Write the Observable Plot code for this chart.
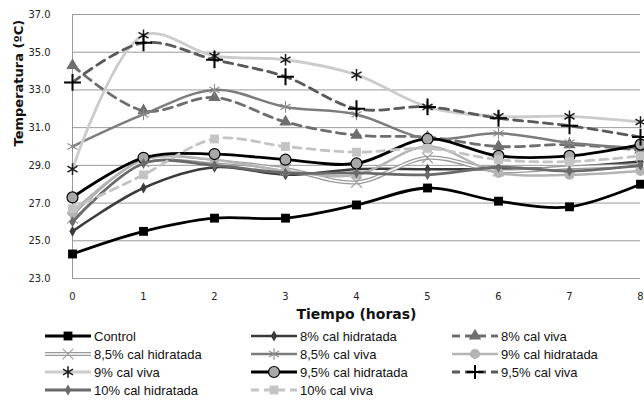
<!DOCTYPE html>
<html><head><meta charset="utf-8">
<script src="https://cdn.jsdelivr.net/npm/d3@7"></script>
<script src="https://cdn.jsdelivr.net/npm/@observablehq/plot@0.6"></script>
<style>
body{margin:0;background:#fff;}
#chart{position:relative;width:644px;height:403px;overflow:hidden;background:#fff;}
#legend{position:absolute;left:0;top:322px;width:644px;height:81px;font-family:"Liberation Sans",Arial,sans-serif;font-size:13px;color:#111;}
.item{position:absolute;display:flex;align-items:center;height:16px;white-space:nowrap;}
.item svg{margin-right:3px;display:block}
</style></head><body><div id="chart"><div id="legend"></div></div>
<script>
// ---- data ----
const hours = [0, 1, 2, 3, 4, 5, 6, 7, 8];
const yTicks = [23, 25, 27, 29, 31, 33, 35, 37];
const seriesNames = ["Control", "8% cal hidratada", "8% cal viva", "8,5% cal hidratada", "8,5% cal viva",
  "9% cal hidratada", "9% cal viva", "9,5% cal hidratada", "9,5% cal viva", "10% cal hidratada", "10% cal viva"];
const control      = [24.3, 25.5, 26.2, 26.2, 26.9, 27.8, 27.1, 26.8, 28.0];
const hid8         = [25.5, 27.8, 28.9, 28.5, 28.8, 28.8, 28.8, 28.9, 29.2];
const viva8        = [34.3, 31.9, 32.6, 31.3, 30.6, 30.5, 30.0, 30.1, 29.8];
const hid85        = [26.2, 29.2, 29.2, 28.8, 28.1, 29.4, 28.7, 28.9, 29.0];
const viva85       = [30.0, 31.7, 33.0, 32.1, 31.7, 30.4, 30.7, 30.2, 29.9];
const hid9         = [26.5, 29.3, 29.3, 28.7, 28.5, 30.0, 28.6, 28.5, 28.7];
const viva9        = [28.8, 35.9, 34.8, 34.6, 33.8, 32.1, 31.6, 31.6, 31.3];
const hid95        = [27.3, 29.4, 29.6, 29.3, 29.1, 30.4, 29.5, 29.5, 30.1];
const viva95       = [33.4, 35.5, 34.6, 33.7, 32.0, 32.1, 31.5, 31.1, 30.5];
const hid10        = [26.0, 29.1, 29.0, 28.6, 28.6, 28.5, 28.9, 28.7, 29.0];
const viva10       = [26.7, 28.5, 30.4, 30.0, 29.7, 29.9, 29.3, 29.2, 29.5];
const seriesValues = [control, hid8, viva8, hid85, viva85, hid9, viva9, hid95, viva95, hid10, viva10];

// ---- styles (not data) ----
const styles = [
  {color:"#000000", w:2.8, dash:null, sym:"square",  fill:"#000000", r:5},
  {color:"#3a3a3a", w:2.5, dash:null, sym:"diamond", fill:"#3a3a3a", r:3.3},
  {color:"#6e6e6e", w:2.8, dash:"9,6", sym:"triangle", fill:"#6e6e6e", r:4.6},
  {color:"#9a9a9a", w:4.2, dash:null, double:true, sym:"times", fill:"none", mstroke:"#a0a0a0", msw:1.1, r:5},
  {color:"#7c7c7c", w:2.5, dash:null, sym:"asterisk", fill:"none", mstroke:"#8a8a8a", msw:1.1, r:5.5},
  {color:"#b4b4b4", w:2.5, dash:null, sym:"circle", fill:"#b4b4b4", r:5},
  {color:"#cccccc", w:2.8, dash:null, sym:"asterisk", fill:"none", mstroke:"#1a1a1a", msw:1.5, r:5.5},
  {color:"#000000", w:2.8, dash:null, sym:"circle", fill:"#a8a8a8", mstroke:"#000", msw:1.2, r:5.5},
  {color:"#5a5a5a", w:2.8, dash:"9,6", sym:"plus", fill:"none", mstroke:"#000", msw:2, r:5.5},
  {color:"#6a6a6a", w:2.8, dash:null, sym:"diamond", fill:"#6a6a6a", r:3.3},
  {color:"#c4c4c4", w:2.8, dash:"8,6", sym:"square", fill:"#c4c4c4", r:5}
];

const marks = [
  Plot.gridY(yTicks, {stroke:"#9a9a9a", strokeOpacity:1, strokeWidth:1}),
  Plot.ruleX([0], {stroke:"#9a9a9a", strokeWidth:1}),
  Plot.axisY(yTicks, {tickSize:0, tickPadding:22, tickFormat:d => d.toFixed(1), fontSize:11, fill:"#222", label:null}),
  Plot.axisX(hours, {tickSize:0, tickPadding:14, tickFormat:d => String(d), fontSize:11, fill:"#222", label:null}),
  Plot.text(["Tiempo (horas)"], {frameAnchor:"bottom", lineAnchor:"middle", dy:36, fontWeight:"bold", fontSize:14, fill:"#111", fontFamily:"DejaVu Sans"}),
  Plot.text(["Temperatura (ºC)"], {frameAnchor:"left", dx:-54, rotate:-90, fontWeight:"bold", fontSize:13, fill:"#111", fontFamily:"DejaVu Sans"})
];

seriesNames.forEach((name, k) => {
  const s = styles[k];
  const pts = hours.map((h, i) => ({x:h, y:seriesValues[k][i]}));
  marks.push(Plot.line(pts, {x:"x", y:"y", stroke:s.color, strokeWidth:s.w, strokeDasharray:s.dash || undefined, curve:"catmull-rom"}));
  if (s.double) marks.push(Plot.line(pts, {x:"x", y:"y", stroke:"#ffffff", strokeWidth:1.6, curve:"catmull-rom"}));
  marks.push(Plot.dot(pts, {x:"x", y:"y", symbol:s.sym, r:s.r, fill:s.fill, stroke:s.mstroke || "none", strokeWidth:s.msw || 1}));
});

const chart = Plot.plot({
  width:644, height:322,
  marginLeft:72, marginRight:4, marginTop:14, marginBottom:44,
  style:{fontFamily:"DejaVu Sans Condensed, DejaVu Sans, sans-serif", fontSize:"11px", background:"#fff"},
  x:{domain:[0, 8], axis:null},
  y:{domain:[23, 37], axis:null},
  marks
});
document.getElementById("chart").prepend(chart);

// ---- legend ----
const symTypes = {square:d3.symbolSquare, diamond:d3.symbolDiamond, triangle:d3.symbolTriangle, times:d3.symbolTimes,
  asterisk:d3.symbolAsterisk, circle:d3.symbolCircle, plus:d3.symbolPlus};
const colLeft = [45, 251, 452];
const legend = d3.select("#legend");
seriesNames.forEach((name, k) => {
  const s = styles[k];
  const row = Math.floor(k / 3), col = k % 3;
  const item = legend.append("div").attr("class", "item")
    .style("left", colLeft[col] + "px").style("top", (6 + row * 18) + "px");
  const svg = item.append("svg").attr("width", 46).attr("height", 14);
  svg.append("line").attr("x1", 0).attr("x2", 46).attr("y1", 7).attr("y2", 7)
    .attr("stroke", s.color).attr("stroke-width", s.w).attr("stroke-dasharray", s.dash ? "8,5" : null)
    .attr("stroke-dashoffset", s.dash ? 0 : null);
  if (s.double) svg.append("line").attr("x1", 0).attr("x2", 46).attr("y1", 7).attr("y2", 7).attr("stroke", "#fff").attr("stroke-width", 1.6);
  svg.append("path").attr("transform", "translate(23,7)")
    .attr("d", d3.symbol(symTypes[s.sym], Math.PI * s.r * s.r)())
    .attr("fill", s.fill).attr("stroke", s.mstroke || "none").attr("stroke-width", s.msw || 1);
  item.append("span").text(name);
});
</script>
</body></html>
